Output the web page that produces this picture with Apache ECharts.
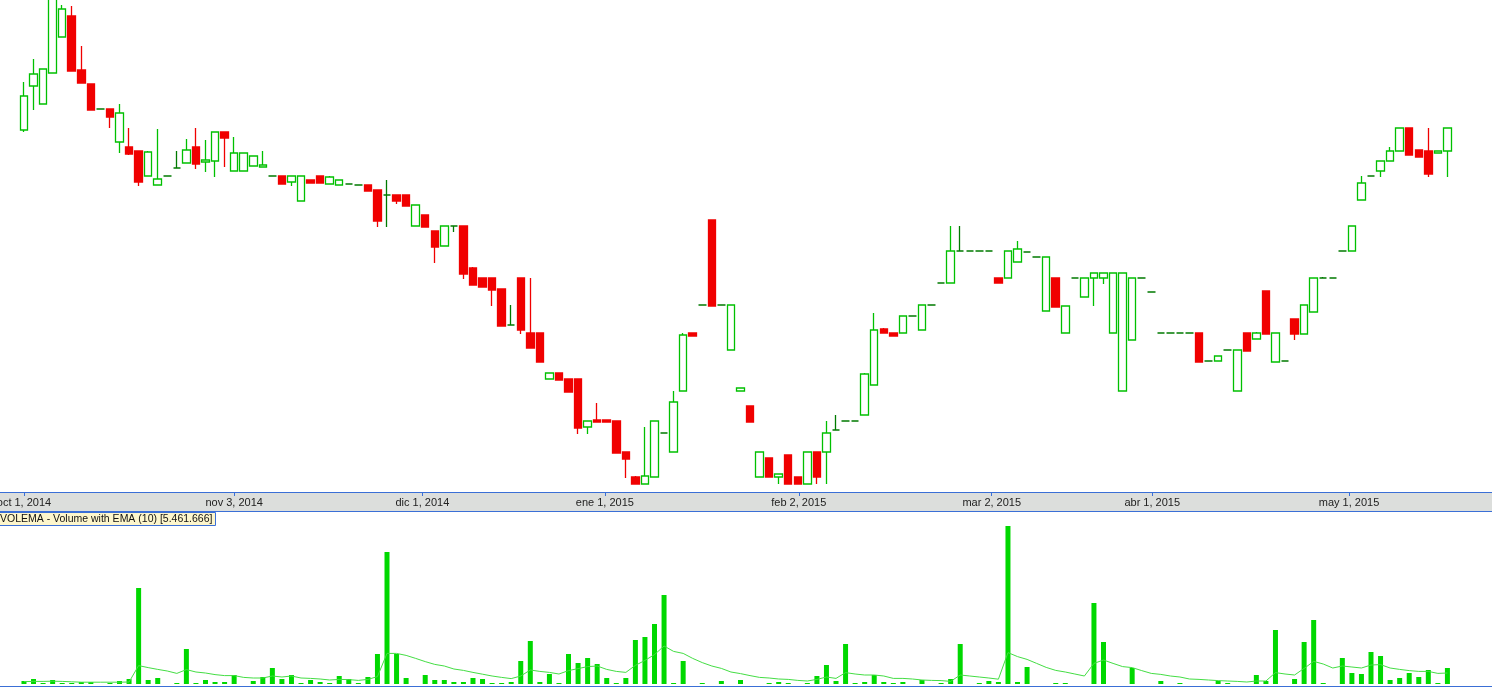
<!DOCTYPE html>
<html><head><meta charset="utf-8">
<script src="https://cdn.jsdelivr.net/npm/echarts@6/dist/echarts.min.js"></script>
<style>html,body{margin:0;padding:0;background:#fff;overflow:hidden}#c{width:1492px;height:688px}</style>
</head><body><div id="c"></div>
<script>
// ---- data (price in chart units, volume in millions) ----
const openVals = [
370,414,396,427,463,484,430,416,391,391,
358,353,349,324,315,324,332,337,353,338,
339,368,329,329,334,333,324,324,318,299,
320,324,316,315,316,315,315,310,305,305,
305,274,285,269,254,274,274,232,222,222,
211,175,222,167,167,121,127,121,121,73,
80,80,79,48,23,16,23,67,48,109,
167,195,280,195,150,109,94,23,42,23,
45,23,16,48,48,70,79,79,85,115,
171,167,167,184,170,195,217,217,249,249,
249,249,222,222,238,248,243,189,222,167,
222,203,222,222,167,109,160,222,208,167,
167,167,167,167,139,139,150,109,167,161,
209,138,139,181,166,188,222,222,249,249,
300,324,329,339,349,372,350,349,347,349];
const closeVals = [
404,426,431,510,491,429,417,390,391,383,
387,346,318,348,321,324,332,350,336,340,
368,362,347,347,344,335,324,316,324,324,
317,317,323,320,316,315,309,279,305,299,
294,295,273,253,274,274,226,215,213,210,
174,175,170,152,138,127,120,108,72,79,
78,78,47,41,16,24,79,67,98,165,
164,195,194,195,195,112,78,48,23,26,
16,16,48,23,67,70,79,79,126,170,
167,164,184,184,195,195,217,249,249,249,
249,249,217,249,251,248,243,243,193,194,
222,222,227,227,227,227,222,222,208,167,
167,167,167,138,139,144,150,150,149,167,
166,167,139,166,195,222,222,222,249,274,
317,324,339,349,372,345,343,326,349,372];
const highVals = [
418,441,431,520,495,494,454,416,391,391,
396,372,349,349,371,324,349,361,372,360,
368,368,363,347,344,349,324,324,324,324,
320,324,324,320,316,315,315,310,320,305,
305,295,285,269,274,274,274,233,222,222,
211,195,222,222,167,127,127,121,121,79,
97,80,79,48,24,73,79,67,109,167,
167,195,280,195,195,112,94,48,42,26,
45,23,48,48,79,85,79,79,127,187,
172,167,184,184,195,195,217,274,274,249,
249,249,222,249,259,248,243,243,222,194,
222,222,227,227,227,227,222,222,208,167,
167,167,167,167,139,144,150,150,167,168,
209,167,139,181,195,222,223,222,249,274,
324,324,339,353,372,372,350,372,349,372];
const lowVals = [
368,390,396,427,463,429,417,390,391,372,
347,345,314,324,315,324,332,337,331,328,
323,333,329,329,334,333,324,316,314,299,
317,317,316,315,316,315,309,273,273,296,
294,274,273,237,254,268,221,215,213,194,
174,175,166,152,138,121,120,108,66,66,
78,78,47,22,16,16,23,67,48,109,
164,195,194,195,150,109,78,23,23,16,
16,16,16,16,16,70,79,79,85,115,
167,164,167,184,170,195,217,217,249,249,
249,249,217,222,238,248,243,189,193,167,
222,203,194,216,167,109,160,222,208,167,
167,167,167,138,139,139,150,109,149,161,
166,138,139,160,166,188,222,222,249,249,
300,324,323,339,349,345,343,323,347,323];
const volumeVals = [
1.5,2.5,0.5,2,0.5,0.5,1,1,0,0.5,
1.5,2.5,48,2,3,0,0.5,17.5,0.5,2,
1,1,4.5,0,1.5,3.5,8,2.5,4.5,0.5,
2,1,0.5,4,2.5,0.5,3.5,15,66,15,
3,0,4.5,2,2,1,1,3,2.5,0.5,
0.5,1,11.5,21.5,1,5,0.5,15,10.5,13,
10,3,0.5,3,22,23.5,30,44.5,0.5,11.5,
0,0.5,0,1.5,0,2,0,0,0.5,1,
0.5,0,0.5,4,9.5,1.5,20,0.5,1,4.5,
1,0.5,1,0,2,0,0.5,2.5,20,0,
0.5,1.5,1,79,1,8.5,0,0,0.5,0.5,
0,0,40.5,21,0,0,8,0,0,1.5,
0,0.5,0,0,0,1.5,0.5,0,0,4.5,
1.5,27,0,2.5,21,32,0.5,0,13,5.5,
5,16,14,2,3,5.5,3.5,7,0.5,8];
const emaVals = [
1.2,1.3,1.3,1.4,1.3,1.1,0.9,0.9,0.9,0.9,
0.9,1,9.2,8.2,7.3,6.5,5.3,7.2,6,5.5,
4.7,4.2,4.2,3.3,3,3,4,3.5,4,3,
2.8,2.5,2,2.3,2.2,1.8,2.3,3.7,15.3,15.3,
14.3,12.8,11.2,9.8,9,7.5,6.8,5.8,4.9,4,
3.3,2.7,4,7,6.3,5.8,5,6.7,7.7,8.7,
9,7.3,6.3,5.8,9.3,11.8,14.7,19,16.3,15.3,
12.8,10.7,9,7.8,6,5.2,4.2,3.3,3,2.5,
2.3,1.8,1.5,2.3,3.5,2.8,5.7,5,4.5,4.5,
4,2.8,2.8,2.5,2,1.8,1.7,1.3,4.5,4,
3.5,3,2.4,15.7,13.7,12.3,10.3,8.3,6.8,6,
5,4,10.3,12,10.3,8.7,8.2,6.7,5.3,4.8,
4,3.5,2.5,2.3,2,1.7,1.5,1.3,1,1.5,
1.5,5.7,5,4.5,7.8,11.3,10,8,9,8.5,
8,9.5,9.7,8,7.3,6.7,6.3,6.3,5.3,5.5];
const tickLabels = ['oct 1, 2014','nov 3, 2014','dic 1, 2014','ene 1, 2015','feb 2, 2015','mar 2, 2015','abr 1, 2015','may 1, 2015'];
const tickPositions = [0, 22, 41.7, 60.8, 81.1, 101.3, 118.1, 138.7];
const categories = openVals.map((_, i) => String(i));
const volumeLabel = 'VOLEMA - Volume with EMA (10) [5.461.666]';

const candleData = openVals.map((o, i) => [o, closeVals[i], lowVals[i], highVals[i]]);
const FONT = 'Liberation Sans, Arial, sans-serif';
const BLUE = '#3a6fd6';

const chart = echarts.init(document.getElementById('c'), null, {renderer: 'canvas'});
chart.setOption({
  animation: false,
  backgroundColor: '#ffffff',
  title: {
    text: volumeLabel, left: -3, top: 512,
    padding: [1, 3, 1, 3],
    backgroundColor: '#fdf6cc', borderColor: BLUE, borderWidth: 1,
    textStyle: {fontSize: 10.5, fontWeight: 'normal', color: '#111', fontFamily: FONT, lineHeight: 12}
  },
  grid: [
    {left: 19.2, width: 1433, top: 0, height: 492, outerBoundsMode: 'none', containLabel: false},
    {left: 19.2, width: 1433, top: 514, height: 170, outerBoundsMode: 'none', containLabel: false}
  ],
  xAxis: [
    {type: 'category', gridIndex: 0, data: categories, show: false},
    {type: 'value', gridIndex: 0, min: -0.5, max: 149.5, position: 'bottom',
      axisLine: {show: false}, splitLine: {show: false},
      axisTick: {show: true, customValues: tickPositions, length: 4, lineStyle: {color: BLUE, width: 1}},
      axisLabel: {customValues: tickPositions, margin: 5, fontSize: 11, color: '#222', fontFamily: FONT,
        hideOverlap: false,
        formatter: function (v) {
          for (let k = 0; k < tickPositions.length; k++) {
            if (Math.abs(tickPositions[k] - v) < 0.01) return tickLabels[k];
          }
          return '';
        }}
    },
    {type: 'category', gridIndex: 1, data: categories, show: false}
  ],
  yAxis: [
    {type: 'value', gridIndex: 0, min: 8, max: 500, show: false},
    {type: 'value', gridIndex: 1, min: 0, max: 85, show: false}
  ],
  series: [
    {type: 'candlestick', xAxisIndex: 0, yAxisIndex: 0, data: candleData, barWidth: 8,
      itemStyle: {color: '#ffffff', color0: '#f00000', borderColor: '#00c000', borderColor0: '#f00000',
        borderColorDoji: '#007a00', borderWidth: 1.3}},
    {type: 'bar', xAxisIndex: 2, yAxisIndex: 1, data: volumeVals, barWidth: 5,
      itemStyle: {color: '#00d800'}},
    {type: 'line', xAxisIndex: 2, yAxisIndex: 1, data: emaVals, symbol: 'none',
      lineStyle: {color: '#44dd44', width: 1}, z: 3}
  ],
  graphic: [
    {type: 'rect', shape: {x: 0, y: 493, width: 1492, height: 19}, style: {fill: '#dcdedc'}, z: -10},
    {type: 'line', shape: {x1: 0, y1: 492.5, x2: 1492, y2: 492.5}, style: {stroke: BLUE, lineWidth: 1}},
    {type: 'line', shape: {x1: 0, y1: 511.5, x2: 1492, y2: 511.5}, style: {stroke: BLUE, lineWidth: 1}},
    {type: 'line', shape: {x1: 0, y1: 686.5, x2: 1492, y2: 686.5}, style: {stroke: BLUE, lineWidth: 1}}
  ]
});
</script>
</body></html>
